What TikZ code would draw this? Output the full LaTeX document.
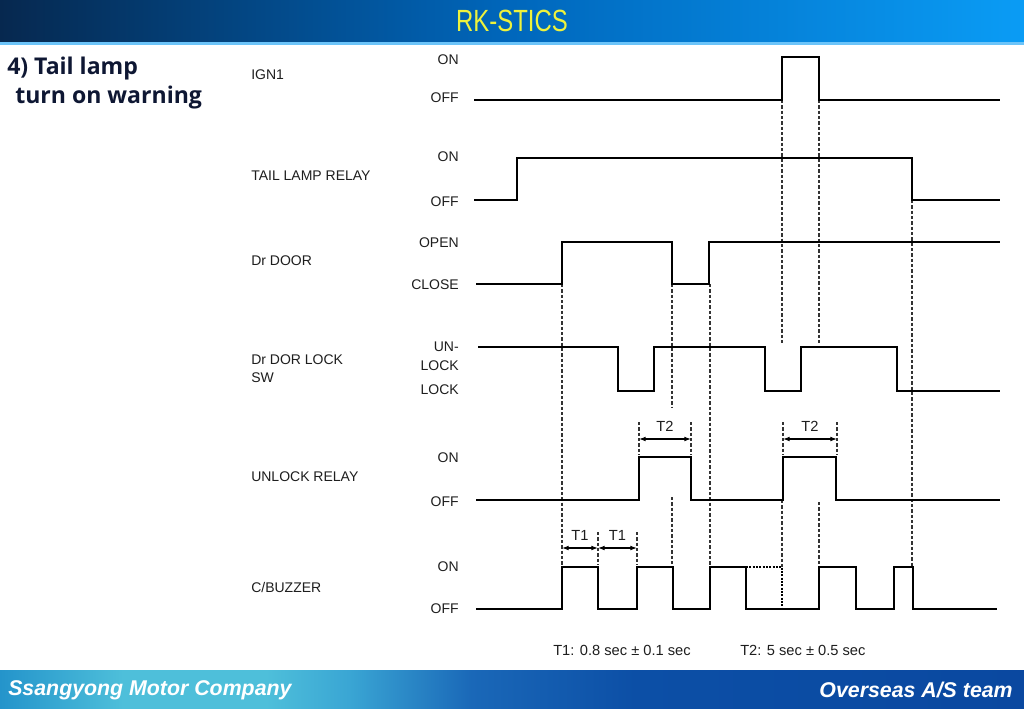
\documentclass[tikz,border=0pt]{standalone}
\usepackage{fontspec}
\usepackage{graphicx}
\setmainfont{Liberation Sans}
\newfontfamily\titlefont{Open Sans}
\usetikzlibrary{arrows.meta}
\definecolor{hdL}{HTML}{06284F}
\definecolor{hdM}{HTML}{0067BC}
\definecolor{hdR}{HTML}{0A9CF5}
\definecolor{ttl}{HTML}{EEF23C}
\definecolor{navy}{HTML}{0E1733}
\definecolor{txt}{HTML}{1E1E1E}
\definecolor{fA}{HTML}{2494CB}
\definecolor{fB}{HTML}{4EBFDA}
\definecolor{fC}{HTML}{3AA6D4}
\definecolor{fD}{HTML}{1A68B8}
\definecolor{fE}{HTML}{0C4FA6}
\definecolor{fF}{HTML}{0A48A0}
\pgfdeclarehorizontalshading{footshade}{100bp}{color(0bp)=(fA); color(25bp)=(fA); color(31bp)=(fB); color(38bp)=(fB); color(42bp)=(fC); color(48bp)=(fD); color(56bp)=(fE); color(75bp)=(fF); color(100bp)=(fF)}
\tikzset{
  sig/.style={line width=1.5pt, black, line join=miter},
  guide/.style={line width=0.8pt, black!80, dash pattern=on 2.4pt off 1.6pt},
  lbl/.style={anchor=west, inner sep=0pt, text=txt, font=\fontsize{10.5}{12}\selectfont},
  st/.style={anchor=east, inner sep=0pt, text=txt, font=\fontsize{10.5}{12}\selectfont},
  tm/.style={anchor=south, inner sep=0pt, text=txt, font=\fontsize{11}{12}\selectfont},
  dim/.style={line width=0.8pt, {Latex[length=5pt,width=3.6pt]}-{Latex[length=5pt,width=3.6pt]}},
  foot/.style={inner sep=0pt, text=white, font=\fontsize{16}{18}\selectfont\bfseries\itshape},
  ttlf/.style={anchor=base west, inner sep=0pt, text=navy, font=\titlefont\fontsize{17.3}{20}\selectfont\bfseries},
}
\begin{document}
\begin{tikzpicture}[x=0.75pt, y=-0.75pt]
\useasboundingbox (0,0) rectangle (1024,708);
\fill[white] (0,0) rectangle (1024,708);
% header
\shade[left color=hdL, right color=hdR, middle color=hdM] (0,0) rectangle (1024,42);
\fill[color=hdR!60!white] (0,42) rectangle (1024,44.5);
\node (hdr) at (512,21) {\scalebox{0.78}[1]{\fontsize{23}{26}\selectfont\color{ttl}RK-STICS}};
% footer
\shade[shading=footshade] (0,670) rectangle (1024,708);
\node[foot, anchor=west] (fl) at (8,690) {Ssangyong Motor Company};
\node[foot, anchor=east] (fr) at (1013,690) {Overseas A/S team};
% title
\node[ttlf] (t1) at (7,74) {4) Tail lamp};
\node[ttlf] (t2) at (15,103) {turn on warning};
% signal names
\node[lbl] (n1) at (251,75) {IGN1};
\node[lbl] (n2) at (251,176) {TAIL LAMP RELAY};
\node[lbl] (n3) at (251,261) {Dr DOOR};
\node[lbl] (n4a) at (251,360) {Dr DOR LOCK};
\node[lbl] (n4b) at (251,378) {SW};
\node[lbl] (n5) at (251,477) {UNLOCK RELAY};
\node[lbl] (n6) at (251,587) {C/BUZZER};
% state labels
\node[st] (s1a) at (459,60) {ON};
\node[st] (s1b) at (459,98) {OFF};
\node[st] (s2a) at (459,157) {ON};
\node[st] (s2b) at (459,202) {OFF};
\node[st] (s3a) at (459,243) {OPEN};
\node[st] (s3b) at (459,285) {CLOSE};
\node[st] (s4a) at (459,347) {UN-};
\node[st] (s4b) at (459,366) {LOCK};
\node[st] (s4c) at (459,390) {LOCK};
\node[st] (s5a) at (459,458) {ON};
\node[st] (s5b) at (459,502) {OFF};
\node[st] (s6a) at (459,567) {ON};
\node[st] (s6b) at (459,609) {OFF};
% guide lines
\draw[guide] (562,284) -- (562,567);
\draw[guide] (672,284) -- (672,407);
\draw[guide] (672,497) -- (672,567);
\draw[guide] (710,284) -- (710,567);
\draw[guide] (782,100) -- (782,345);
\draw[guide] (782,500) -- (782,567);
\draw[guide] (819,100) -- (819,345);
\draw[guide] (819,502) -- (819,567);
\draw[guide] (912,200) -- (912,567);
\draw[guide] (639,422) -- (639,455);
\draw[guide] (691,422) -- (691,455);
\draw[guide] (783,422) -- (783,455);
\draw[guide] (837,422) -- (837,455);
\draw[guide] (598,532) -- (598,565);
\draw[guide] (637,532) -- (637,565);
% waveforms
\draw[sig] (474,100) -- (782,100) -- (782,57) -- (819,57) -- (819,100) -- (1000,100);
\draw[sig] (474,200) -- (517,200) -- (517,158) -- (912,158) -- (912,200) -- (1000,200);
\draw[sig] (476,284) -- (562,284) -- (562,242) -- (672,242) -- (672,284) -- (709,284) -- (709,242) -- (1000,242);
\draw[sig] (478,347) -- (618,347) -- (618,391) -- (654,391) -- (654,347) -- (765,347) -- (765,391) -- (801,391) -- (801,347) -- (897,347) -- (897,391) -- (1000,391);
\draw[sig] (476,500) -- (639,500) -- (639,457) -- (691,457) -- (691,500) -- (783,500) -- (783,457) -- (836,457) -- (836,500) -- (1000,500);
\draw[sig] (476,609) -- (562,609) -- (562,567) -- (598,567) -- (598,609) -- (637,609) -- (637,567) -- (673,567) -- (673,609) -- (710,609) -- (710,567) -- (746,567) -- (746,609) -- (819,609) -- (819,567) -- (856,567) -- (856,609) -- (894,609) -- (894,567) -- (913,567) -- (913,609) -- (997,609);
\draw[line width=1.6pt, black, dash pattern=on 1.5pt off 1pt] (746,567) -- (782,567) -- (782,609);
% dimension arrows
\coordinate (a1) at (562,548); \coordinate (a2) at (598,548); \coordinate (a3) at (637,548);
\coordinate (b1) at (639,439); \coordinate (b2) at (691,439);
\coordinate (c1) at (783,439); \coordinate (c2) at (837,439);
\draw[dim] (a1) -- (a2) node[tm, midway, above=5pt] (lt1) {T1};
\draw[dim] (a2) -- (a3) node[tm, midway, above=5pt] (lt2) {T1};
\draw[dim] (b1) -- (b2) node[tm, midway, above=5pt] (lt3) {T2};
\draw[dim] (c1) -- (c2) node[tm, midway, above=5pt] (lt4) {T2};
% notes
\node[lbl, font=\fontsize{11}{12}\selectfont] (k1) at (553,650) {T1: 0.8 sec ± 0.1 sec};
\node[lbl, font=\fontsize{11}{12}\selectfont] (k2) at (740,650) {T2: 5 sec ± 0.5 sec};
\end{tikzpicture}
\end{document}
